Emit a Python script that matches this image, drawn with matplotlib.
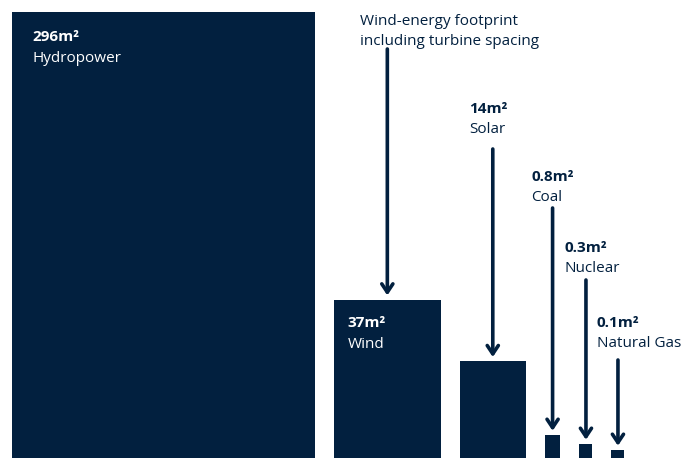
import numpy as np
import matplotlib.pyplot as plt

# land footprint per unit of electricity
sources = ["Hydropower", "Wind", "Solar", "Coal", "Nuclear", "Natural Gas"]
footprint = [296, 37, 14, 0.8, 0.3, 0.1]
value_labels = ["296m²", "37m²", "14m²", "0.8m²", "0.3m²", "0.1m²"]
note = "Wind-energy footprint\nincluding turbine spacing"

plt.rcParams['font.family'] = ['Open Sans', 'DejaVu Sans']
navy = "#02203f"
W, H = 686, 458
px_x = 17.6   # pixels per sqrt(m2), horizontal
px_y = 25.9   # pixels per sqrt(m2), vertical

fig = plt.figure(figsize=(W / 100, H / 100), dpi=100)
ax = fig.add_axes([0, 0, 1, 1])
ax.set_xlim(0, W / px_x)
ax.set_ylim(0, H / px_y)
ax.axis('off')

side = np.sqrt(footprint)
widths = np.maximum(side, 13 / px_x)
heights = side
gap = 19 / px_x
lefts = 12 / px_x + np.concatenate([[0], np.cumsum(widths[:-1] + gap)])
centers = lefts + widths / 2
ax.bar(lefts, heights, width=widths, align='edge', color=navy, linewidth=0)


def ypx(y):
    # pixel row from the top -> data y
    return (H - y) / px_y


arrow = dict(arrowstyle='->,head_length=0.3,head_width=0.2', color=navy,
             lw=2.6, shrinkA=0, shrinkB=0, mutation_scale=20)

# text layout: (x offset in px, baseline row of value line, arrow start row)
inside = {0: (20, 41), 1: (14, 327)}
outside = {2: (-24, 113, 149), 3: (-21, 181, 208), 4: (-21, 252, 280), 5: (-21, 327, 360)}

for i, (dx, yb) in inside.items():
    x = lefts[i] + dx / px_x
    ax.text(x, ypx(yb), value_labels[i], color='white', fontsize=11,
            fontweight='bold', va='baseline')
    ax.text(x, ypx(yb + 21), sources[i], color='white', fontsize=11, va='baseline')

for i, (dx, yb, ys) in outside.items():
    x = centers[i] + dx / px_x
    ax.text(x, ypx(yb), value_labels[i], color=navy, fontsize=11,
            fontweight='bold', va='baseline')
    ax.text(x, ypx(yb + 20), sources[i], color=navy, fontsize=11, va='baseline')
    ax.annotate('', xy=(centers[i], heights[i] + 4 / px_y),
                xytext=(centers[i], ypx(ys)), arrowprops=arrow)

# note about wind spacing
ax.text(centers[1] - 27 / px_x, ypx(25), note.split("\n")[0], color=navy,
        fontsize=11, va='baseline')
ax.text(centers[1] - 27 / px_x, ypx(45), note.split("\n")[1], color=navy,
        fontsize=11, va='baseline')
ax.annotate('', xy=(centers[1], heights[1] + 5 / px_y),
            xytext=(centers[1], ypx(49)), arrowprops=arrow)

fig.savefig("out.png", dpi=100)
